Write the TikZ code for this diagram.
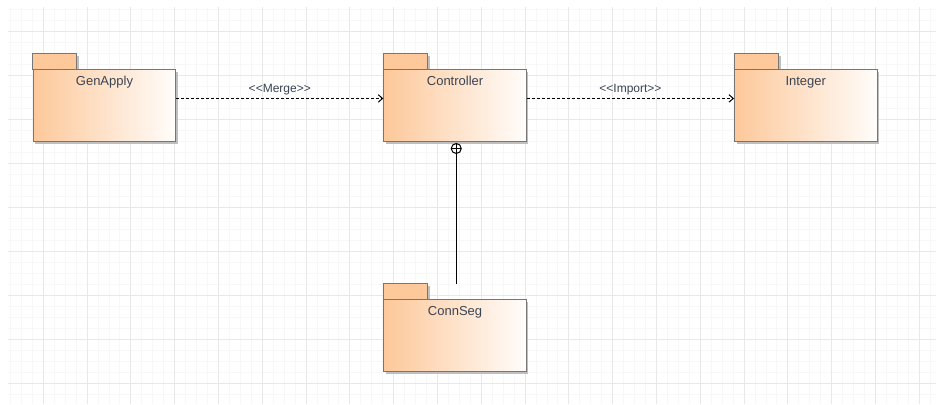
\documentclass[tikz,border=0pt]{standalone}
\usepackage{fontspec}
\setmainfont{Liberation Sans}
\usepackage{xcolor}
\usepackage{tikz}
\usetikzlibrary{arrows.meta}
\usetikzlibrary{calc}
\definecolor{peach}{RGB}{253,200,154}
\definecolor{peachmid}{RGB}{254,222,194}
\definecolor{pkgline}{RGB}{118,118,118}
\definecolor{pkgtext}{RGB}{58,68,82}
\tikzset{
  gridminor/.style={color={rgb,255:red,247;green,247;blue,247}, line width=0.75pt},
  gridmajor/.style={color={rgb,255:red,232;green,232;blue,232}, line width=0.75pt},
  pkg/.style={rectangle, draw=pkgline, line width=0.75pt, left color=peach,
              middle color=peachmid, right color=white!96!peach,
              minimum width=106.9pt, minimum height=54pt,
              inner sep=0pt, anchor=north west},
  pkgtab/.style={draw=pkgline, fill=peach, line width=0.75pt},
  pkgshadow/.style={fill=black!25},
  pkgtitle/.style={font=\fontsize{9.75pt}{11pt}\selectfont, text=pkgtext,
                   anchor=base, inner sep=0pt},
  dep/.style={dash pattern=on 2.25pt off 1.5pt, line width=0.75pt,
              -{Straight Barb[length=3.2pt, width=5.6pt]}},
  stereo/.style={font=\fontsize{9pt}{10pt}\selectfont, text=pkgtext,
                 anchor=base, inner sep=0pt, yshift=4.3pt},
  nest/.style={circle, draw=black, line width=0.75pt, minimum size=7.5pt,
               inner sep=0pt, anchor=north,
               path picture={\draw[line width=0.75pt]
                 (path picture bounding box.north) -- (path picture bounding box.south)
                 (path picture bounding box.west) -- (path picture bounding box.east);}}}

\begin{document}
\begin{tikzpicture}[x=0.75pt, y=-0.75pt]
  \useasboundingbox[fill=white] (0,0) rectangle (936,404);
  % background grid
  \foreach \i in {-3,...,81}{\draw[gridminor] (43.3+\i*10.95,7) -- (43.3+\i*10.95,404);}
  \foreach \j in {-2,...,33}{\draw[gridminor] (8,31+\j*11) -- (936,31+\j*11);}
  \foreach \i in {0,...,20}{\draw[gridmajor] (43.3+\i*43.8,7) -- (43.3+\i*43.8,404);}
  \foreach \j in {0,...,8}{\draw[gridmajor] (8,31+\j*44) -- (936,31+\j*44);}
  % packages: shadow, tab, body, title
  \foreach \n/\x/\y/\t in {gen/32.7/69/GenApply, ctrl/383.3/69/Controller,
                           int/734/69/Integer, conn/383.3/299.3/ConnSeg}{
    \fill[pkgshadow] (\x+2.5,\y-13) rectangle ++(44,15.5);
    \fill[pkgshadow] (\x+2.5,\y+2.5) rectangle ++(142.5,72);
    \draw[pkgtab] (\x,\y) rectangle ++(44,-15.7);
    \node[pkg] (\n) at (\x,\y) {};
    \node[pkgtitle] (\n-title) at ($(\n.north)+(0,16)$) {\t};}
  % dependencies
  \draw[dep] ([yshift=5.3pt]gen.east) -- node[midway, stereo] (merge)
    {<\kern0pt<Merge>\kern0pt>} ([yshift=5.3pt]ctrl.west);
  \draw[dep] ([yshift=5.3pt]ctrl.east) -- node[midway, stereo] (import)
    {<\kern0pt<Import>\kern0pt>} ([yshift=5.3pt]int.west);
  % nesting of ConnSeg in Controller
  \node[nest] (own) at ([xshift=0.9pt, yshift=-0.75pt]ctrl.south) {};
  \coordinate (conn-tab) at ($(conn.north)+(0,-15)$);
  \draw[line width=0.75pt] (own.south) -- (own.south |- conn-tab);
\end{tikzpicture}
\end{document}
